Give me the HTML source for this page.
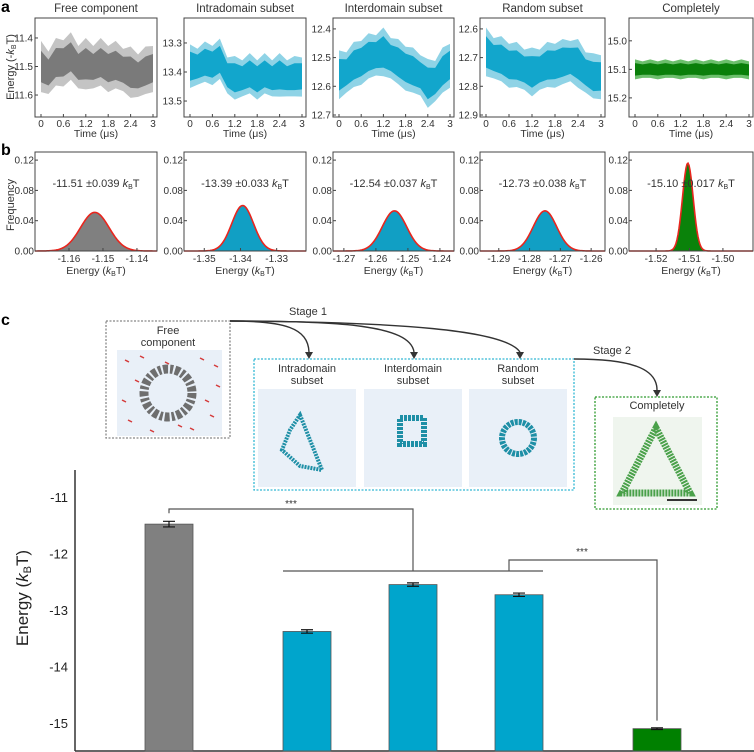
<!DOCTYPE html>
<html><head><meta charset="utf-8">
<style>
html,body{margin:0;padding:0;background:#fff;}
svg{display:block;font-family:"Liberation Sans",Arial,sans-serif;}
</style></head>
<body>
<svg id="fig" width="754" height="752" viewBox="0 0 754 752" xmlns="http://www.w3.org/2000/svg">
<text x="1" y="12" font-size="16" font-weight="bold">a</text>
<text x="1" y="155" font-size="16" font-weight="bold">b</text>
<text x="1" y="325" font-size="16" font-weight="bold">c</text>
<text transform="translate(14,67) rotate(-90)" text-anchor="middle" font-size="11" fill="#333">Energy (-<tspan font-style="italic">k</tspan><tspan font-size="7" dy="2">B</tspan><tspan dy="-2">T)</tspan></text>
<text transform="translate(14,205) rotate(-90)" text-anchor="middle" font-size="11" fill="#333">Frequency</text>
<text transform="translate(28,598) rotate(-90)" text-anchor="middle" font-size="17" fill="#222">Energy (<tspan font-style="italic">k</tspan><tspan font-size="11" dy="3">B</tspan><tspan dy="-3">T)</tspan></text>
</svg>
<script>
const NS='http://www.w3.org/2000/svg';
const svg=document.getElementById('fig');
function mk(tag,attrs,parent,text){const e=document.createElementNS(NS,tag);for(const k in attrs)e.setAttribute(k,attrs[k]);if(text!==undefined)e.textContent=text;(parent||svg).appendChild(e);return e;}

// ===== Panel a data =====
const aTitles=['Free component','Intradomain subset','Interdomain subset','Random subset','Completely'];
const aYTicks=[[11.4,11.5,11.6],[13.3,13.4,13.5],[12.4,12.5,12.6,12.7],[12.6,12.7,12.8,12.9],[15.0,15.1,15.2]];
const aYDomain=[[11.33,11.677],[13.214,13.555],[12.362,12.707],[12.562,12.907],[14.92,15.267]];
const aXTicks=[0,0.6,1.2,1.8,2.4,3];
const aTime=[0,0.2,0.4,0.6,0.8,1.0,1.2,1.4,1.6,1.8,2.0,2.2,2.4,2.6,2.8,3.0];
const aMeanFree=[11.50,11.52,11.49,11.48,11.47,11.50,11.49,11.50,11.49,11.50,11.50,11.51,11.52,11.53,11.52,11.50];
const aMeanIntra=[13.38,13.38,13.37,13.37,13.36,13.41,13.42,13.42,13.41,13.42,13.41,13.42,13.41,13.42,13.42,13.41];
const aMeanInter=[12.56,12.55,12.53,12.51,12.50,12.49,12.48,12.50,12.52,12.53,12.55,12.56,12.59,12.58,12.55,12.52];
const aMeanRandom=[12.68,12.70,12.71,12.72,12.73,12.74,12.75,12.74,12.73,12.72,12.72,12.71,12.72,12.75,12.77,12.76];
const aMeanComplete=[15.10,15.10,15.10,15.10,15.10,15.10,15.10,15.10,15.10,15.10,15.10,15.10,15.10,15.10,15.10,15.10];
const aMeans=[aMeanFree,aMeanIntra,aMeanInter,aMeanRandom,aMeanComplete];
const aInner=[0.055,0.05,0.055,0.055,0.022];
const aOuter=[0.09,0.075,0.085,0.085,0.035];
const aColors=['#7a7a7a','#12a6cc','#12a6cc','#12a6cc','#0a7f0a'];
const aLight=['#c4c4c4','#8fd3e6','#8fd3e6','#8fd3e6','#6cbf6c'];

// ===== Panel b data =====
const bXTicks=[[-1.16,-1.15,-1.14],[-1.35,-1.34,-1.33],[-1.27,-1.26,-1.25,-1.24],[-1.29,-1.28,-1.27,-1.26],[-1.52,-1.51,-1.50]];
const bXDomain=[[-1.17,-1.1341],[-1.3556,-1.3219],[-1.2734,-1.2356],[-1.2961,-1.2555],[-1.5281,-1.491]];
const bYTicks=[0.00,0.04,0.08,0.12];
const bMean=[-1.1524,-1.3394,-1.2542,-1.2750,-1.5105];
const bSigma=[0.0042,0.0030,0.0038,0.0038,0.0016];
const bPeak=[0.051,0.060,0.053,0.053,0.116];
const bLabels=['-11.51 ±0.039 ','-13.39 ±0.033 ','-12.54 ±0.037 ','-12.73 ±0.038 ','-15.10 ±0.017 '];
const bColors=['#808080','#119fc4','#119fc4','#119fc4','#0a820a'];

// ===== Panel c data =====
const cCats=['Free component','Intradomain subset','Interdomain subset','Random subset','Completely'];
const cVals=[-11.48,-13.38,-12.55,-12.73,-15.10];
const cErr=[0.05,0.03,0.03,0.03,0.015];
const cYTicks=[-11,-12,-13,-14,-15];
const cColors=['#808080','#00a5cc','#00a5cc','#00a5cc','#008000'];

const plotLeft=[35,184,333,480,629];
const plotW=[122,122,121,125,124];

// ----- Panel a -----
for(let p=0;p<5;p++){
  const L=plotLeft[p],W=plotW[p],T=18,B=117;
  const g=mk('g',{});
  
  
  const xs=t=>L+6+(W-10)*t/3;
  const ys=v=>T+(B-T)*(v-aYDomain[p][0])/(aYDomain[p][1]-aYDomain[p][0]);
  const tt=mk('text',{x:L+W/2,y:12,'text-anchor':'middle','font-size':11.5,fill:'#333'},g,aTitles[p]);
  
  
  const m=aMeans[p];
  function band(h,col,name){
    let up=[],dn=[];
    for(let i=0;i<aTime.length;i++){up.push(xs(aTime[i])+','+ys(m[i]-h*(i%2?0.8:1)));dn.unshift(xs(aTime[i])+','+ys(m[i]+h*(i%3?0.85:1)));}
    const pg=mk('polygon',{points:up.concat(dn).join(' '),fill:col},g);
    
    
  }
  band(aOuter[p],aLight[p],'trace-outer-band');
  band(aInner[p],aColors[p],'trace-inner-band');
  const bx=mk('rect',{x:L,y:T,width:W,height:B-T,fill:'none',stroke:'#444','stroke-width':1},g);
  
  
  aYTicks[p].forEach(v=>{
    const y=ys(v);
    mk('line',{x1:L,x2:L+3,y1:y,y2:y,stroke:'#444'},g);
    const t=mk('text',{x:L-2,y:y+3.5,'text-anchor':'end','font-size':10,fill:'#333'},g,v.toFixed(1));
    
    
  });
  aXTicks.forEach(v=>{
    const x=xs(v);
    mk('line',{x1:x,x2:x,y1:B,y2:B-3,stroke:'#444'},g);
    const t=mk('text',{x:x,y:127,'text-anchor':'middle','font-size':10,fill:'#333'},g,String(v));
    
    
  });
  const xl=mk('text',{x:L+W/2,y:137,'text-anchor':'middle','font-size':10.5,fill:'#333'},g,'Time (μs)');
  
  
}

// ----- Panel b -----
for(let p=0;p<5;p++){
  const L=plotLeft[p],W=plotW[p],T=152,B=251;
  const g=mk('g',{});
  
  
  const xs=v=>L+W*(v-bXDomain[p][0])/(bXDomain[p][1]-bXDomain[p][0]);
  const ys=f=>B-f*(30.3/0.04);
  let pts=[];
  for(let i=0;i<=W;i++){
    const v=bXDomain[p][0]+(bXDomain[p][1]-bXDomain[p][0])*i/W;
    const f=bPeak[p]*Math.exp(-0.5*Math.pow((v-bMean[p])/bSigma[p],2));
    pts.push((L+i)+','+ys(f));
  }
  const fill=mk('polygon',{points:(L+','+B+' ')+pts.join(' ')+(' '+(L+W)+','+B),fill:bColors[p]},g);
  
  
  const curve=mk('polyline',{points:pts.join(' '),fill:'none',stroke:'#e8261e','stroke-width':1.6},g);
  
  
  const bx=mk('rect',{x:L,y:T,width:W,height:B-T,fill:'none',stroke:'#444','stroke-width':1},g);
  
  
  bYTicks.forEach(v=>{
    const y=ys(v);
    mk('line',{x1:L,x2:L+3,y1:y,y2:y,stroke:'#444'},g);
    const t=mk('text',{x:L-1,y:y+3.5,'text-anchor':'end','font-size':10,fill:'#333'},g,v.toFixed(2));
    
    
  });
  bXTicks[p].forEach(v=>{
    const x=xs(v);
    mk('line',{x1:x,x2:x,y1:B,y2:B-3,stroke:'#444'},g);
    const t=mk('text',{x:x,y:262,'text-anchor':'middle','font-size':10,fill:'#333'},g,v.toFixed(2));
    
    
  });
  const xl=mk('text',{x:L+W/2,y:274,'text-anchor':'middle','font-size':10.5,fill:'#333'},g);
  
  
  xl.innerHTML='Energy (<tspan font-style="italic">k</tspan><tspan font-size="7" dy="2">B</tspan><tspan dy="-2">T)</tspan>';
  const an=mk('text',{x:L+W/2,y:187,'text-anchor':'middle','font-size':11,fill:'#333'},g);
  
  
  an.innerHTML=bLabels[p]+'<tspan font-style="italic">k</tspan><tspan font-size="7" dy="2">B</tspan><tspan dy="-2">T</tspan>';
}

// ----- Panel c schematic -----
function box(x,y,w,h,col,name){const r=mk('rect',{x:x,y:y,width:w,height:h,fill:'none',stroke:col,'stroke-width':1.3,'stroke-dasharray':'2,1.5'});}
function img(x,y,w,h,col,name){const r=mk('rect',{x:x,y:y,width:w,height:h,fill:col});}
function lbl(x,y,s,name,size){const t=mk('text',{x:x,y:y,'text-anchor':'middle','font-size':size||11,fill:'#333'},svg,s);}
box(106,321,124,117,'#888','free-component-box');
lbl(168,334,'Free','free-label-line1');lbl(168,346,'component','free-label-line2');
img(117,350,105,86,'#e9f0f8','free-component-image');
const ring=mk('circle',{cx:168,cy:393,r:24,fill:'none',stroke:'#6e6e6e','stroke-width':9,'stroke-dasharray':'5,2,3,2'});


[[125,360],[140,356],[200,358],[214,365],[122,400],[128,420],[150,430],[190,428],[210,415],[216,385],[135,380],[205,400],[165,362],[178,425]].forEach(q=>{const d=mk('line',{x1:q[0],y1:q[1],x2:q[0]+4,y2:q[1]+2,stroke:'#d43a3a','stroke-width':1.5});});

box(254,359,320,131,'#33b8d4','stage1-subsets-box');
const subX=[258,364,469];
const subT=[['Intradomain','subset'],['Interdomain','subset'],['Random','subset']];
for(let i=0;i<3;i++){
  lbl(subX[i]+49,372,subT[i][0],'subset-label');lbl(subX[i]+49,384,subT[i][1],'subset-label');
  img(subX[i],389,98,98,'#e9f0f8','subset-image-'+(i+1));
}
const s1=mk('polygon',{points:'300,415 310,440 322,470 300,466 282,450 290,430',fill:'none',stroke:'#1e8fa6','stroke-width':4,'stroke-dasharray':'2,1'});

const s2=mk('rect',{x:400,y:418,width:24,height:26,fill:'none',stroke:'#1e8fa6','stroke-width':6,'stroke-dasharray':'3,1'});

const s3=mk('circle',{cx:518,cy:438,r:16,fill:'none',stroke:'#1e8fa6','stroke-width':6,'stroke-dasharray':'3,1'});


box(595,397,122,112,'#2e9a2e','completely-box');
lbl(657,409,'Completely','completely-label');
img(613,417,89,88,'#eff5ee','completely-image');
const tri=mk('polygon',{points:'656,428 690,493 622,493',fill:'none',stroke:'#4aa14a','stroke-width':7,'stroke-dasharray':'2,1'});

const sb=mk('line',{x1:667,x2:697,y1:500,y2:500,stroke:'#333','stroke-width':2});


function arrow(d,tx,ty,name){
  const p=mk('path',{d:d,fill:'none',stroke:'#333','stroke-width':1.4});
  
  const h=mk('polygon',{points:(tx-4)+','+(ty-7)+' '+(tx+4)+','+(ty-7)+' '+tx+','+ty,fill:'#333'});
  
}
arrow('M230,321 C285,321 308,328 309,352',309,359,'arrow-to-intradomain');
arrow('M230,321 C340,321 410,325 414,352',414,359,'arrow-to-interdomain');
arrow('M230,321 C400,322 505,330 520,352',520,359,'arrow-to-random');
arrow('M574,359 C630,359 657,368 657,390',657,397,'arrow-to-completely');
lbl(308,315,'Stage 1','stage1-label',11);
lbl(612,354,'Stage 2','stage2-label',11);

// ----- Panel c bar chart -----
const cAxisX=75,cTop=470,cBot=751;
const yC=v=>497+(-11-v)*56.5;
const xC=i=>169+i*106+(i>=1?32:0)+(i>=4?32:0);
const yax=mk('line',{x1:cAxisX,x2:cAxisX,y1:cTop,y2:cBot,stroke:'#333','stroke-width':1.5});

const xax=mk('line',{x1:cAxisX,x2:754,y1:cBot,y2:cBot,stroke:'#333','stroke-width':1.5});

cYTicks.forEach(v=>{
  const t=mk('text',{x:68,y:yC(v)+5,'text-anchor':'end','font-size':13,fill:'#222'},svg,String(v));
  
});
for(let i=0;i<cVals.length;i++){
  const x=xC(i),top=yC(cVals[i]);
  const r=mk('rect',{x:x-24,y:top,width:48,height:cBot-top,fill:cColors[i],stroke:'#555','stroke-width':0.8});
  
  
  const e1=yC(cVals[i]+cErr[i]),e2=yC(cVals[i]-cErr[i]);
  const eb=mk('path',{d:`M${x},${e1}V${e2}M${x-6},${e1}H${x+6}M${x-6},${e2}H${x+6}`,stroke:'#111','stroke-width':1.2,fill:'none'});
  
}
const br1=mk('path',{d:`M${xC(0)},${yC(cVals[0]+cErr[0])-8}V509H${xC(2)}V571`,fill:'none',stroke:'#555','stroke-width':1.2});

const grp=mk('line',{x1:xC(1)-24,x2:xC(3)+24,y1:571,y2:571,stroke:'#555','stroke-width':1.2});

const br2=mk('path',{d:`M${xC(3)-10},571V560H${xC(4)}V${yC(cVals[4])-8}`,fill:'none',stroke:'#555','stroke-width':1.2});

lbl(291,507,'***','significance-stars-1',10);
lbl(582,555,'***','significance-stars-2',10);
</script>
</body></html>
